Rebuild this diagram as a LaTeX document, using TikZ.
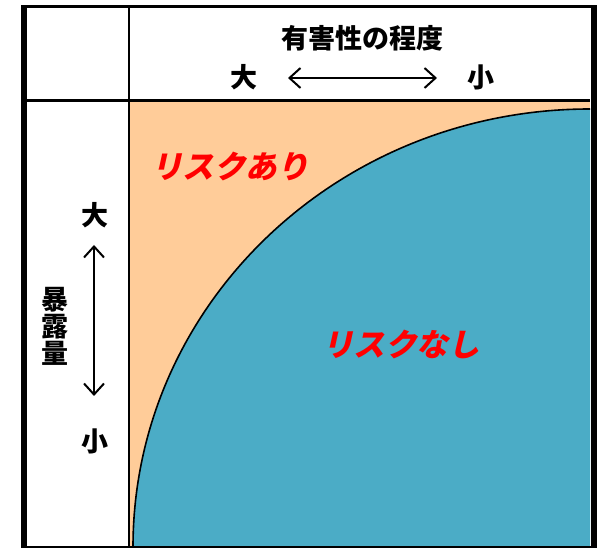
\documentclass[tikz,border=0pt]{standalone}
\usepackage{fontspec}
\usetikzlibrary{arrows.meta}
\newfontfamily\jpfont{Noto Sans CJK JP}
\newfontfamily\jpslant{Noto Sans CJK JP}[FakeSlant=0.22]
\definecolor{peach}{HTML}{FFCC99}
\definecolor{riskblue}{HTML}{4BACC6}
\tikzset{
  lbl/.style={font=\jpfont\bfseries\fontsize{27}{27}\selectfont, inner sep=0pt, text=black},
  risk/.style={font=\jpslant\bfseries\fontsize{31.5}{31.5}\selectfont, inner sep=0pt, text=red},
  dblarrow/.style={line width=2pt, {Straight Barb[length=11pt,width=20pt]}-{Straight Barb[length=11pt,width=20pt]}},
  frame/.style={draw=black}
}
\begin{document}
\begin{tikzpicture}[x=1pt,y=1pt]
\useasboundingbox (0,0) rectangle (597,548);
\fill[white] (0,0) rectangle (597,548);
% regions
\fill[peach] (129,1) rectangle (590,447);
\begin{scope}
  \clip (129,1) rectangle (590,447);
  \fill[riskblue] (133,1) arc[start angle=180, end angle=90, x radius=457, y radius=438] -- (590,1) -- cycle;
  \draw[line width=1.6pt] (133,1) arc[start angle=180, end angle=90, x radius=457, y radius=438];
\end{scope}
% grid lines
\draw[frame, line width=3pt] (24,447) -- (590,447);
\draw[frame, line width=2pt] (129,541) -- (129,1);
\draw[frame, line width=3pt] (21,541) -- (597,541);
\draw[frame, line width=1.5pt] (21,0.75) -- (597,0.75);
\draw[frame, line width=6pt] (24,542.5) -- (24,0);
\draw[frame, line width=7pt] (594,542.5) -- (594,0);
% header texts
\node[lbl] (title) at (362,510) {有害性の程度};
\node[lbl] (hbig) at (244,471) {大};
\node[lbl] (hsmall) at (481,471) {小};
\coordinate (hL) at (288,470);
\coordinate (hR) at (437,470);
\draw[dblarrow] (hL) -- (hR);
% vertical axis
\node[lbl] (vbig) at (95,333) {大};
\node[lbl] (vsmall) at (95,107) {小};
\coordinate (vT) at (94,303);
\coordinate (vB) at (94,152);
\draw[dblarrow] (vT) -- (vB);
\node[lbl, align=center] (expo) at (55,222) {暴\\露\\量};
% risk labels
\node[risk] (ari) at (230,381) {リスクあり};
\node[risk] (nashi) at (401,203) {リスクなし};
\end{tikzpicture}
\end{document}
